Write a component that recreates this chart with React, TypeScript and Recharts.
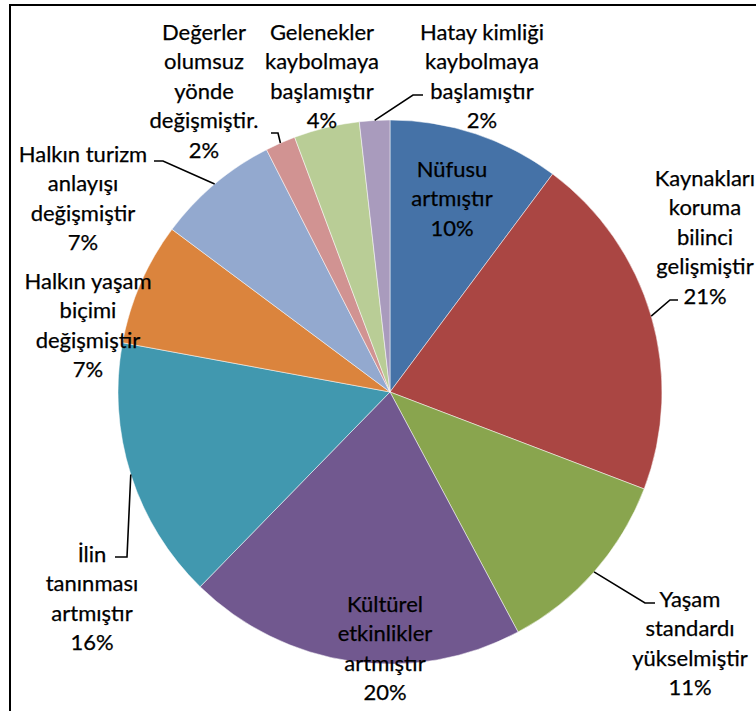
import React from 'react';
import { PieChart, Pie, Cell } from 'recharts';

const categories = [
  'Nüfusu\nartmıştır',
  'Kaynakları\nkoruma\nbilinci\ngelişmiştir',
  'Yaşam\nstandardı\nyükselmiştir',
  'Kültürel\netkinlikler\nartmıştır',
  'İlin\ntanınması\nartmıştır',
  'Halkın yaşam\nbiçimi\ndeğişmiştir',
  'Halkın turizm\nanlayışı\ndeğişmiştir',
  'Değerler\nolumsuz\nyönde\ndeğişmiştir.',
  'Gelenekler\nkaybolmaya\nbaşlamıştır',
  'Hatay kimliği\nkaybolmaya\nbaşlamıştır',
];

const values = [10.2, 20.6, 11.4, 20.1, 15.6, 7.3, 7.3, 1.8, 3.9, 1.8];

const colors = [
  '#4572A7', '#AA4643', '#89A54E', '#71588F', '#4198AF',
  '#DB843D', '#93A9CF', '#D19392', '#B9CD96', '#A99BBD',
];

// label placement (text block center x, first line y, optional leader elbow/end)
const labelLayout: { x: number; y: number; leader?: number[][] }[] = [
  { x: 452, y: 168 },
  { x: 705, y: 177, leader: [[670, 300], [678, 300]] },
  { x: 690, y: 598, leader: [[645, 603], [655, 603]] },
  { x: 385, y: 603 },
  { x: 92, y: 553, leader: [[127, 557], [115, 557]] },
  { x: 88, y: 280 },
  { x: 83, y: 153, leader: [[163, 161], [154, 161]] },
  { x: 204, y: 31, leader: [[278, 133], [271, 133]] },
  { x: 322, y: 31 },
  { x: 482, y: 31, leader: [[413, 95], [423, 95]] },
];

const data = categories.map((name, i) => ({ name, value: values[i] }));

const RAD = Math.PI / 180;
const LINE_H = 29.5;

const renderLabel = (props: any) => {
  const { cx, cy, midAngle, outerRadius, percent, index } = props;
  const layout = labelLayout[index];
  const lines = categories[index].split('\n');
  lines.push(`${Math.round(percent * 100)}%`);
  const sx = cx + outerRadius * Math.cos(-midAngle * RAD);
  const sy = cy + outerRadius * Math.sin(-midAngle * RAD);
  return (
    <g key={`lbl-${index}`}>
      {layout.leader && (
        <polyline
          points={[[sx, sy], ...layout.leader].map((p) => p.join(',')).join(' ')}
          fill="none"
          stroke="#000"
          strokeWidth={1.6}
        />
      )}
      <text
        x={layout.x}
        textAnchor="middle"
        fontFamily="Lato, 'Open Sans', sans-serif"
        fontSize={22}
        fill="#000"
        stroke="#000"
        strokeWidth={0.25}
      >
        {lines.map((ln, k) => (
          <tspan key={k} x={layout.x} y={layout.y + k * LINE_H} dominantBaseline="central">
            {ln}
          </tspan>
        ))}
      </text>
    </g>
  );
};

export default function App() {
  return (
    <div style={{ position: 'absolute', left: 0, top: 0, width: 756, height: 711, overflow: 'hidden', background: '#fff' }}>
      <div
        style={{
          position: 'absolute',
          left: 9,
          top: 4,
          width: 900,
          height: 900,
          borderLeft: '2px solid #000',
          borderTop: '2px solid #000',
        }}
      />
      <div style={{ position: 'absolute', left: 0, top: 0 }}>
        <PieChart width={756} height={711} margin={{ top: 0, right: 0, bottom: 0, left: 0 }}>
          <Pie
            data={data}
            dataKey="value"
            nameKey="name"
            cx={390}
            cy={392}
            outerRadius={272}
            startAngle={90}
            endAngle={-270}
            stroke="#fff"
            strokeWidth={0.5}
            label={renderLabel}
            labelLine={false}
            isAnimationActive={false}
          >
            {data.map((d, i) => (
              <Cell key={d.name} fill={colors[i]} />
            ))}
          </Pie>
        </PieChart>
      </div>
    </div>
  );
}
